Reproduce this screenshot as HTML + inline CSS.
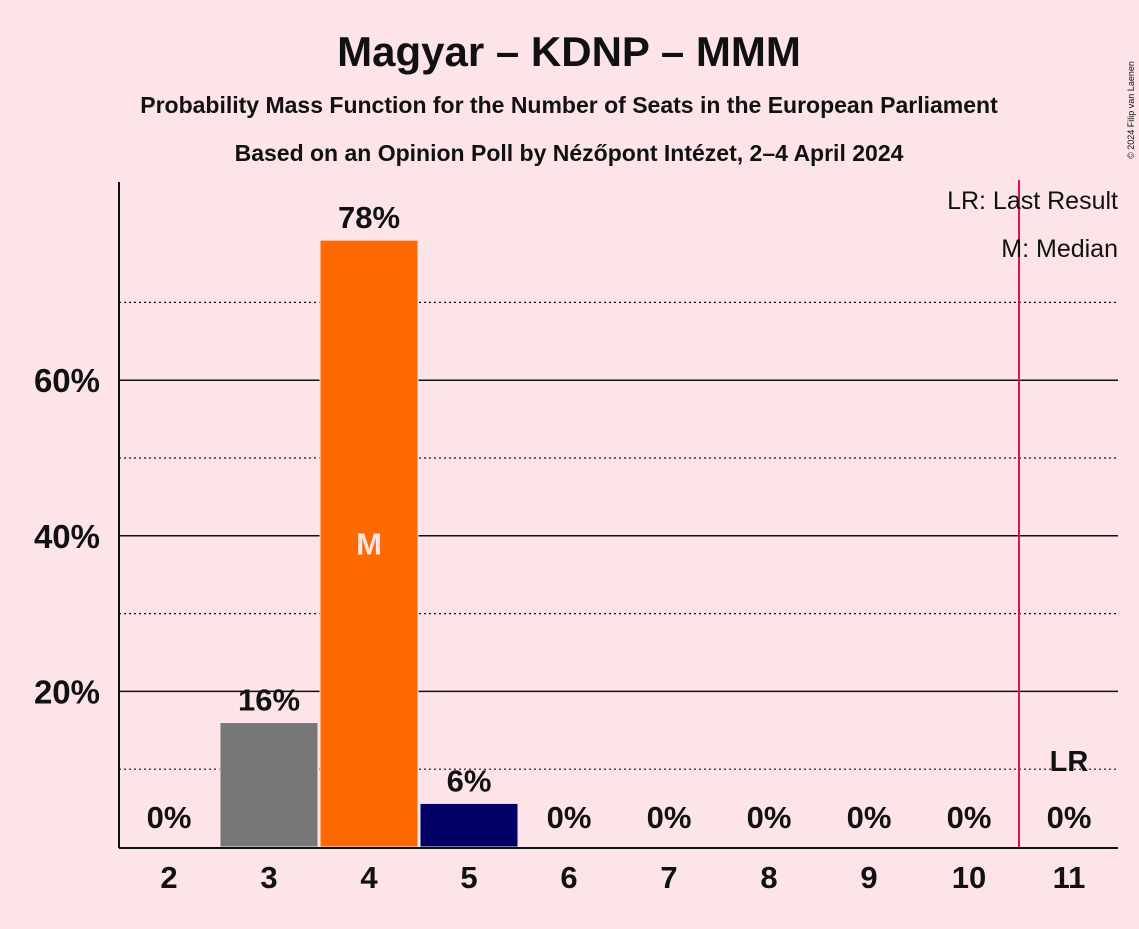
<!DOCTYPE html>
<html><head><meta charset="utf-8"><style>
body{margin:0;background:#fce4e8;font-family:"Liberation Sans",sans-serif}
svg text{font-family:"Liberation Sans",sans-serif;font-weight:bold;fill:#111}
</style></head><body>
<svg id="c" width="1139" height="924">
<rect width="1139" height="924" fill="#fce4e8"/>
<text x="569" y="66" font-size="42" text-anchor="middle">Magyar – KDNP – MMM</text>
<text x="569" y="113" font-size="23" text-anchor="middle">Probability Mass Function for the Number of Seats in the European Parliament</text>
<text x="569" y="161" font-size="23" text-anchor="middle">Based on an Opinion Poll by Nézőpont Intézet, 2–4 April 2024</text>
<text x="1134" y="110" font-size="9" font-weight="normal" transform="rotate(-90 1134 110)" text-anchor="middle" style="font-weight:normal">© 2024 Filip van Laenen</text>
<g id="grid"></g><g id="bars"></g>
<line x1="1019" y1="180" x2="1019" y2="848" stroke="#e0143c" stroke-width="2"/>
<line x1="119" y1="182" x2="119" y2="848" stroke="#111" stroke-width="2"/>
<line x1="119" y1="848" x2="1118" y2="848" stroke="#111" stroke-width="2"/>
<text x="1118" y="209" font-size="25" text-anchor="end" style="font-weight:normal">LR: Last Result</text>
<text x="1118" y="257" font-size="25" text-anchor="end" style="font-weight:normal">M: Median</text>
<text x="1069" y="771" font-size="29" text-anchor="middle">LR</text>
</svg>
<script>
const seats=[2,3,4,5,6,7,8,9,10,11];
const probs=[0,16,78,5.6,0,0,0,0,0,0];
const labels=["0%","16%","78%","6%","0%","0%","0%","0%","0%","0%"];
const colors=["#777","#777","#ff6a00","#000066","#777","#777","#777","#777","#777","#777"];
const yTicks=[20,40,60];
const yDotted=[10,30,50,70];
const medianSeat=4;
const NS="http://www.w3.org/2000/svg";
const y=v=>847-v*7.78;
const xc=i=>169+i*100;
function mk(tag,attrs,parent,txt){const e=document.createElementNS(NS,tag);for(const k in attrs)e.setAttribute(k,attrs[k]);if(txt!==undefined)e.textContent=txt;parent.appendChild(e);return e;}
const grid=document.getElementById('grid'),bars=document.getElementById('bars'),svg=document.getElementById('c');
yDotted.forEach(v=>{const l=mk('line',{x1:119,x2:1118,y1:y(v),y2:y(v),stroke:'#111','stroke-width':1.2,'stroke-dasharray':'2,3'},grid);

});
yTicks.forEach(v=>{const l=mk('line',{x1:119,x2:1118,y1:y(v),y2:y(v),stroke:'#111','stroke-width':1.5},grid);


const t=mk('text',{x:100,y:y(v)+12,'font-size':33,'text-anchor':'end'},svg,v+'%');

});
seats.forEach((s,i)=>{
 if(probs[i]>0){const r=mk('rect',{x:xc(i)-49,y:y(probs[i]),width:98,height:847-y(probs[i]),fill:colors[i],stroke:'#fce4e8','stroke-width':1},bars);
 
 }
 const ly=probs[i]>0?y(probs[i])-12:828;
 const t=mk('text',{x:xc(i),y:ly,'font-size':31,'text-anchor':'middle'},svg,labels[i]);
 
 
 const xt=mk('text',{x:xc(i),y:888,'font-size':31,'text-anchor':'middle'},svg,String(s));
 
 
 if(s===medianSeat){const m=mk('text',{x:xc(i),y:y(probs[i]/2)+11,'font-size':31,'text-anchor':'middle',style:'fill:#fce4e8'},svg,'M');
 
 }
});
</script>
</body></html>
